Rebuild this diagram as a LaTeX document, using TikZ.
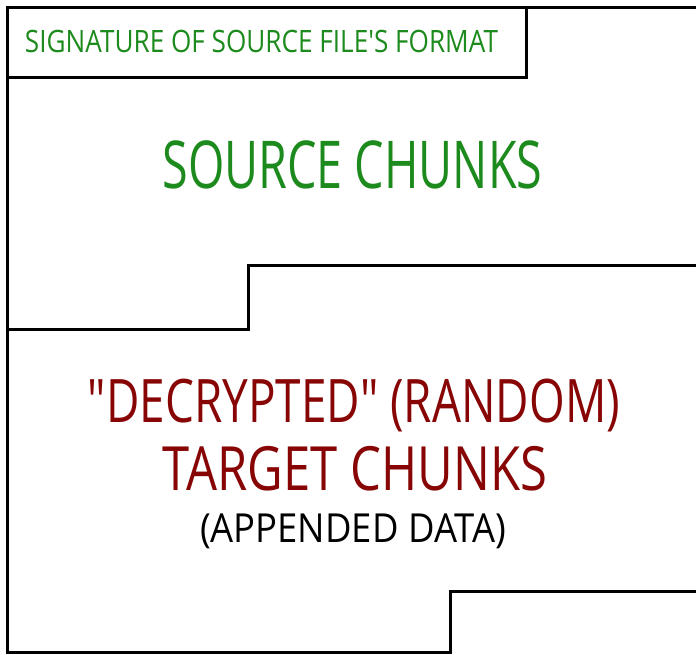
\documentclass[tikz,border=0pt]{standalone}
\usepackage{fontspec}
\setmainfont{Open Sans}
\newfontfamily\lblfont{Open Sans}
\usepackage{graphicx}
\definecolor{sigGreen}{RGB}{28,138,28}
\definecolor{tgtRed}{RGB}{135,5,5}
\tikzset{
  wall/.style={line width=3pt, line join=miter, line cap=butt},
  lbl/.style={anchor=base, inner sep=0pt, outer sep=0pt, font=\lblfont},
}
\begin{document}
\begin{tikzpicture}[x=1pt,y=-1pt]
\useasboundingbox (0,0) rectangle (696,654);
% outer outline
\draw[wall] (697,7) -- (7,7) -- (7,652) -- (450,652) -- (450,591) -- (697,591);
% signature box
\draw[wall] (7,77) -- (526,77) -- (526,7);
% step between source and target
\draw[wall] (7,329) -- (248,329) -- (248,265) -- (697,265);
% labels
\node[lbl, text=sigGreen] (sig) at (261.5,52) {\resizebox{473pt}{\height}{\fontsize{30.8}{34}\selectfont SIGNATURE OF SOURCE FILE'S FORMAT}};
\node[lbl, text=sigGreen] (src) at (352.5,188) {\resizebox{380pt}{\height}{\fontsize{66}{70}\selectfont SOURCE CHUNKS}};
\node[lbl, text=tgtRed] (dec) at (354,422) {\resizebox{532pt}{\height}{\fontsize{60}{64}\selectfont "DECRYPTED" (RANDOM)}};
\node[lbl, text=tgtRed] (tgt) at (355,490) {\resizebox{384pt}{\height}{\fontsize{61}{64}\selectfont TARGET CHUNKS}};
\node[lbl, text=black] (app) at (353,542) {\resizebox{306pt}{\height}{\fontsize{40}{44}\selectfont (APPENDED DATA)}};
\end{tikzpicture}
\end{document}
